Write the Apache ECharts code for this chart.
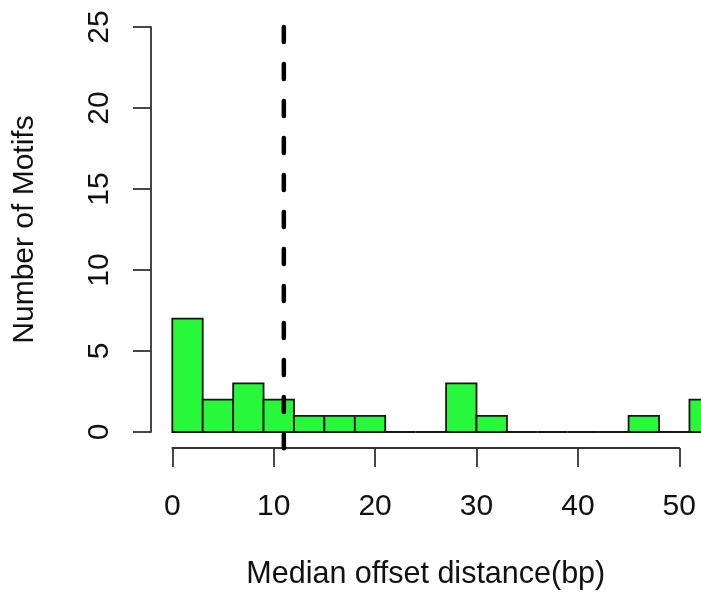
<!DOCTYPE html>
<html>
<head>
<meta charset="utf-8">
<script src="https://cdn.jsdelivr.net/npm/echarts@6/dist/echarts.min.js"></script>
<style>
  html, body { margin: 0; padding: 0; background: #ffffff; }
  #chart { width: 701px; height: 592px; }
</style>
</head>
<body>
<div id="chart"></div>
<script>
// Histogram of median offset distances (bin edges and counts per bin)
const breaks = [0, 3, 6, 9, 12, 15, 18, 21, 24, 27, 30, 33, 36, 39, 42, 45, 48, 51, 54];
const counts = [7, 2, 3, 2, 1, 1, 1, 0, 0, 3, 1, 0, 0, 0, 0, 1, 0, 2];
// Median of the offsets, drawn as a dashed reference line
const medianOffset = 11;
const yRange = [0, 25];
const xTickRange = [0, 50];

const FONT = 'Liberation Sans, Arial, Helvetica, sans-serif';
const TEXT = '#111111';
const AXIS = '#333333';

const bins = counts.map((c, i) => [breaks[i], breaks[i + 1], c]);

const chart = echarts.init(document.getElementById('chart'), null, { renderer: 'canvas' });

chart.setOption({
  backgroundColor: '#ffffff',
  animation: false,
  grid: [
    // plotting area: bars, reference line and the count axis
    { left: 172.3, right: 0, top: 27, bottom: 160, containLabel: false, outerBoundsMode: 'none' },
    // distance axis, drawn only over 0..50
    { left: 172.3, width: 507, top: 27, bottom: 144, containLabel: false, outerBoundsMode: 'none' }
  ],
  xAxis: [
    {
      gridIndex: 0, type: 'value', min: 0, max: 52.14,
      show: false
    },
    {
      gridIndex: 1, type: 'value', min: xTickRange[0], max: xTickRange[1], interval: 10,
      position: 'bottom',
      name: 'Median offset distance(bp)',
      nameLocation: 'middle',
      nameGap: 111,
      nameTextStyle: { fontFamily: FONT, fontSize: 30.5, color: TEXT },
      axisLine: { show: true, onZero: false, lineStyle: { color: AXIS, width: 1.8 } },
      axisTick: { show: true, inside: false, length: 19, lineStyle: { color: AXIS, width: 1.8 } },
      axisLabel: { fontFamily: FONT, fontSize: 30, color: TEXT, margin: 44 },
      splitLine: { show: false }
    }
  ],
  yAxis: [
    {
      gridIndex: 0, type: 'value', min: yRange[0], max: yRange[1], interval: 5,
      position: 'left', offset: 21.3,
      name: 'Number of Motifs',
      nameLocation: 'middle',
      nameRotate: 90,
      nameGap: 111,
      nameTextStyle: { fontFamily: FONT, fontSize: 30, color: TEXT },
      axisLine: { show: true, onZero: false, lineStyle: { color: AXIS, width: 1.8 } },
      axisTick: { show: true, inside: false, length: 18, lineStyle: { color: AXIS, width: 1.8 } },
      axisLabel: { fontFamily: FONT, fontSize: 30, color: TEXT, rotate: 90, margin: 36 },
      splitLine: { show: false }
    },
    {
      gridIndex: 1, type: 'value', min: 0, max: 1, show: false
    }
  ],
  series: [
    {
      type: 'custom',
      xAxisIndex: 0, yAxisIndex: 0,
      clip: false,
      data: bins,
      encode: { x: [0, 1], y: 2 },
      renderItem: function (params, api) {
        const p0 = api.coord([api.value(0), api.value(2)]);
        const p1 = api.coord([api.value(1), 0]);
        return {
          type: 'rect',
          shape: { x: p0[0], y: p0[1], width: p1[0] - p0[0], height: p1[1] - p0[1] },
          style: { fill: '#28f83a', stroke: '#151515', lineWidth: 1.8 }
        };
      }
    },
    {
      type: 'line',
      xAxisIndex: 0, yAxisIndex: 0,
      clip: false,
      symbol: 'none',
      data: [[medianOffset, yRange[1]], [medianOffset, -1]],
      lineStyle: { color: '#000000', width: 4.5, type: [15, 22], cap: 'round' },
      z: 5
    }
  ]
});
</script>
</body>
</html>
